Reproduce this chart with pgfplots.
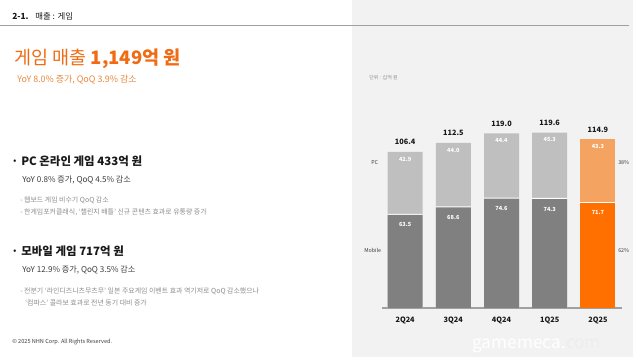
\documentclass[border=0pt]{standalone}
\usepackage{fontspec}
\setmainfont{Noto Sans CJK KR}
\usepackage{pgfplots}
\usepackage{pgfplotstable}
\pgfplotsset{compat=1.18}
\definecolor{orangeT}{RGB}{240,108,20}
\definecolor{orangeS}{RGB}{232,135,60}
\definecolor{panel}{RGB}{242,242,242}
\definecolor{darkbar}{RGB}{128,128,128}
\definecolor{lightbar}{RGB}{191,191,191}
\definecolor{orbar}{RGB}{255,112,0}
\definecolor{lorbar}{RGB}{244,163,96}
\definecolor{txt}{RGB}{25,25,25}
\definecolor{subtxt}{RGB}{60,60,60}
\definecolor{faint}{RGB}{140,140,140}
\definecolor{rule}{RGB}{160,160,160}
\pgfplotstableread{
x total pc mobile gap
0 106.4 42.9 63.5 64.2
1 112.5 44.0 68.6 69.3
2 119.0 44.4 74.6 75.3
3 119.6 45.3 74.3 75.0
}\grayData
\pgfplotstableread{
x total pc mobile gap
4 114.9 43.3 71.7 72.4
}\orangeData
\newcommand{\fs}[1]{\fontsize{#1}{#1}\selectfont}
\begin{document}
\begin{tikzpicture}[x=0.75pt,y=0.75pt]
\useasboundingbox (0,0) rectangle (640,357);
\fill[panel] (352,0) rectangle (633,357);
\draw[rule, line width=0.9pt] (0,331.5) -- (629,331.5);
\begin{scope}[every node/.style={inner sep=0pt, anchor=base west}]
\node[text=txt] at (12,337) {\fs{6.3}\textbf{2-1.}\hspace{0.8em}매출 : 게임};
\node[text=orangeT] at (14,292) {\fs{13.9}게임 매출 \textbf{1,149억 원}};
\node[text=orangeS] at (17,274) {\fs{6.7}YoY 8.0\% 증가, QoQ 3.9\% 감소};
\node[text=txt] at (11,191) {\fs{8.6}\textbf{·}};
\node[text=txt] at (21,191) {\fs{8.6}\textbf{PC 온라인 게임 433억 원}};
\node[text=subtxt] at (22,174.5) {\fs{6.1}YoY 0.8\% 증가, QoQ 4.5\% 감소};
\node[text=faint] at (20,154.5) {\fs{5.2}- 웹보드 게임 비수기 QoQ 감소};
\node[text=faint] at (20,142) {\fs{5.2}- 한게임포커클래식, ‘챌린지 배틀’ 신규 콘텐츠 효과로 유통량 증가};
\node[text=txt] at (11,101) {\fs{8.6}\textbf{·}};
\node[text=txt] at (21,101) {\fs{8.6}\textbf{모바일 게임 717억 원}};
\node[text=subtxt] at (22,84) {\fs{6.1}YoY 12.9\% 증가, QoQ 3.5\% 감소};
\node[text=faint] at (20,63.5) {\fs{5.2}- 전분기 ‘라인디즈니츠무츠무’ 일본 주요게임 이벤트 효과 역기저로 QoQ 감소했으나};
\node[text=faint] at (25,51) {\fs{5.2}‘컴파스’ 콜라보 효과로 전년 동기 대비 증가};
\node[text=subtxt] at (12,13.5) {\fs{4.2}© 2025 NHN Corp. All Rights Reserved.};
\node[text=faint] at (369,277) {\fs{3.8}단위 : 십억 원};
\node[text=subtxt] at (371,192) {\fs{4}PC};
\node[text=subtxt] at (364,104) {\fs{4}Mobile};
\node[text=subtxt] at (618,192) {\fs{4}38\%};
\node[text=subtxt] at (618,104) {\fs{4}62\%};
\node[text=white] at (472,8) {\fs{13}gamemeca.\textcolor{white!93!black}{com}};
\end{scope}
\begin{axis}[
  at={(286.5pt,36.75pt)}, anchor=south west, scale only axis,
  width=180pt, height=154pt,
  xmin=-0.48, xmax=4.5, ymin=0, ymax=140,
  axis x line*=bottom, axis y line=none,
  x axis line style={rule, line width=0.8pt},
  xtick={0,1,2,3,4}, xticklabels={2Q24,3Q24,4Q24,1Q25,2Q25},
  major tick length=0pt,
  xticklabel style={font=\bfseries\fs{5.5}, text=txt, yshift=-3pt},
  clip=false,
  ybar, bar width=26.25pt, bar shift=0pt,
  /pgf/number format/assume math mode=true,
  nodes near coords={\pgfmathprintnumber[fixed,fixed zerofill,precision=1]{\pgfplotspointmeta}},
]
\addplot[fill=lightbar, draw=none,
  every node near coord/.style={anchor=center, yshift=7.5pt, font=\bfseries\fs{5.5}, text=txt}]
  table[x=x, y=total] {\grayData};
\addplot[fill=lorbar, draw=none,
  every node near coord/.style={anchor=center, yshift=7.5pt, font=\bfseries\fs{5.5}, text=txt}]
  table[x=x, y=total] {\orangeData};
\addplot[fill=none, draw=none, point meta=\thisrow{pc},
  every node near coord/.style={anchor=center, yshift=-5.5pt, font=\bfseries\fs{4.2}, text=white}]
  table[x=x, y=total] {\grayData};
\addplot[fill=none, draw=none, point meta=\thisrow{pc},
  every node near coord/.style={anchor=center, yshift=-5.5pt, font=\bfseries\fs{4.2}, text=white}]
  table[x=x, y=total] {\orangeData};
\addplot[fill=white, draw=none, nodes near coords=\empty] table[x=x, y=gap] {\grayData};
\addplot[fill=white, draw=none, nodes near coords=\empty] table[x=x, y=gap] {\orangeData};
\addplot[fill=darkbar, draw=none,
  every node near coord/.style={anchor=center, yshift=-7.5pt, font=\bfseries\fs{4.2}, text=white}]
  table[x=x, y=mobile] {\grayData};
\addplot[fill=orbar, draw=none,
  every node near coord/.style={anchor=center, yshift=-7.5pt, font=\bfseries\fs{4.2}, text=white}]
  table[x=x, y=mobile] {\orangeData};
\end{axis}
\end{tikzpicture}
\end{document}
